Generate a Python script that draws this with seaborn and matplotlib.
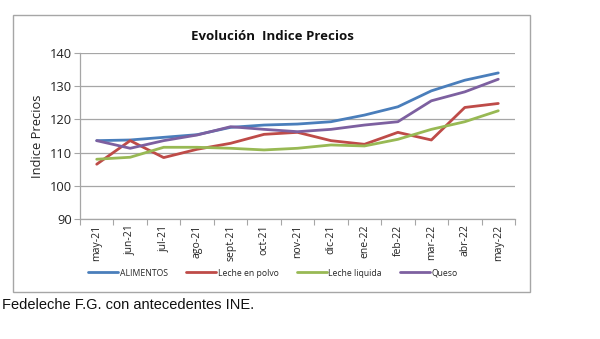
import matplotlib
matplotlib.use("Agg")
import matplotlib.pyplot as plt
import seaborn as sns
import pandas as pd
import numpy as np
from matplotlib.patches import Rectangle
from matplotlib.ticker import FixedLocator

months = ["may-21", "jun-21", "jul-21", "ago-21", "sept-21", "oct-21", "nov-21",
          "dic-21", "ene-22", "feb-22", "mar-22", "abr-22", "may-22"]
alimentos = [113.6, 113.8, 114.6, 115.4, 117.6, 118.3, 118.6, 119.3, 121.3, 123.8, 128.6, 131.8, 134.0]
leche_polvo = [106.5, 113.6, 108.5, 111.0, 112.8, 115.5, 116.1, 113.6, 112.5, 116.1, 113.8, 123.6, 124.8]
leche_liquida = [108.0, 108.6, 111.6, 111.6, 111.3, 110.8, 111.3, 112.3, 112.0, 114.0, 117.0, 119.3, 122.6]
queso = [113.6, 111.3, 113.6, 115.3, 117.8, 117.0, 116.3, 117.0, 118.3, 119.3, 125.6, 128.3, 132.1]
series_names = ["ALIMENTOS", "Leche en polvo", "Leche liquida", "Queso"]
series_values = [alimentos, leche_polvo, leche_liquida, queso]
colors = ["#4a7ebb", "#be4b48", "#98b954", "#7d60a0"]

rows = []
for name, vals in zip(series_names, series_values):
    for i, v in enumerate(vals):
        rows.append({"idx": i, "mes": months[i], "valor": v, "serie": name})
df = pd.DataFrame(rows)

sns.set_theme(style="white")
plt.rcParams["font.family"] = ["Open Sans", "DejaVu Sans"]

fig = plt.figure(figsize=(6.0, 3.39), dpi=100)
fig.patch.set_facecolor("white")

# chart frame
fig.patches.append(Rectangle((13/600, 1-292/339), 517/600, 277/339, transform=fig.transFigure,
                             fill=False, edgecolor="#a6a6a6", linewidth=1.0, zorder=0))

ax = fig.add_axes([80/600, 1-219/339, 435/600, 166/339])
sns.lineplot(data=df, x="idx", y="valor", hue="serie", palette=colors, hue_order=series_names,
             linewidth=2.0, ax=ax, legend=False, sort=False)

ax.set_ylim(90, 140)
ax.set_yticks([90, 100, 110, 120, 130, 140])
ax.set_yticklabels(["90", "100", "110", "120", "130", "140"], fontsize=9.3, color="#222222")
ax.set_xlim(-0.5, 12.5)
ax.set_xticks(range(len(months)))
ax.set_xticklabels(months, rotation=90, fontsize=7.5, color="#222222")
ax.xaxis.set_minor_locator(FixedLocator(np.arange(-0.5, 13, 1)))
ax.tick_params(axis="x", which="major", length=0, pad=4)
ax.tick_params(axis="x", which="minor", length=4, width=0.8, color="#a6a6a6", direction="out", bottom=True)
ax.tick_params(axis="y", length=4, width=0.8, color="#a6a6a6", direction="out", left=True, pad=2)
ax.grid(axis="y", color="#a6a6a6", linewidth=0.9)
ax.set_axisbelow(True)
for s in ["top", "right"]:
    ax.spines[s].set_visible(False)
for s in ["left", "bottom"]:
    ax.spines[s].set_color("#a6a6a6")
    ax.spines[s].set_linewidth(0.9)
ax.set_xlabel("")
ax.set_ylabel("Indice Precios", fontsize=9.3, labelpad=4, color="#222222")

fig.text(272/600, 1-36/339, "Evolución  Indice Precios", ha="center", va="center",
         fontsize=9.5, fontweight="bold", color="#111111")

handles = [plt.Line2D([], [], color=c, linewidth=2.0) for c in colors]
fig.legend(handles, series_names, loc="center", bbox_to_anchor=(273/600, 1-273/339), ncol=4,
           frameon=False, fontsize=6.2, handlelength=3.5, handletextpad=0.2, columnspacing=2.1)

fig.text(2/600, 1-305/339, "Fedeleche F.G. con antecedentes INE.", ha="left", va="center",
         fontsize=10.5, family=["Liberation Sans", "DejaVu Sans"], color="#111111")

fig.savefig("out.png", dpi=100, facecolor="white")
